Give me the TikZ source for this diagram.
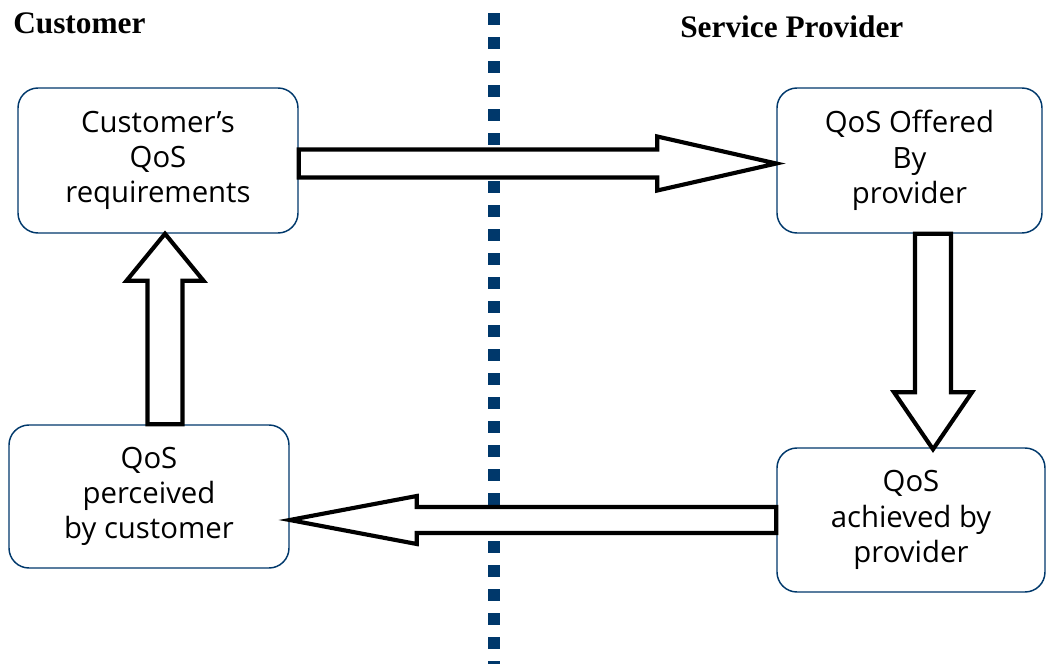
\documentclass[tikz,border=0pt]{standalone}
\usepackage{fontspec}
\setmainfont{Liberation Serif}
\newfontfamily\boxfont{Open Sans}
\usetikzlibrary{calc, positioning}

\definecolor{navy}{RGB}{0,56,107}

\tikzset{
  qosbox/.style={draw=navy, line width=1.1pt, rounded corners=15pt,
    minimum width=280*0.75pt, minimum height=145*0.75pt, align=center,
    font=\boxfont\fontsize{22}{26.5}\selectfont, inner sep=0pt},
  sidetitle/.style={font=\bfseries\fontsize{23.5}{26}\selectfont, inner sep=0pt},
  blockarrow/.style={draw=black, fill=white, line width=3.1pt, line join=miter}
}

\begin{document}
\begin{tikzpicture}[x=0.75pt, y=-0.75pt]
  \useasboundingbox (0,0) rectangle (1047,664);

  % Side titles
  \node[sidetitle, anchor=base west] (custtitle) at (13,33) {Customer};
  \node[sidetitle, anchor=base west] (provtitle) at (680,37) {Service Provider};

  % Dividing line
  \coordinate (divtop) at (494,13);
  \coordinate (divbot) at (494,670);
  \draw[navy, line width=9pt, dash pattern=on 9pt off 9pt] (divtop) -- (divbot);

  % The four boxes
  \node[qosbox] (req) at (158,160.5) {Customer’s\\QoS\\requirements};
  \node[qosbox, minimum width=265*0.75pt] (off) at (909.5,160.5) {QoS Offered\\By\\provider};
  \node[qosbox, minimum width=268*0.75pt, minimum height=144*0.75pt] (ach) at (911,520) {QoS\\achieved by\\provider};
  \node[qosbox, minimum width=280*0.75pt, minimum height=143*0.75pt] (per) at (149,496.5) {QoS\\perceived\\by customer};

  % Customer -> provider
  \coordinate (tipA) at ($(off.west)+(0,3)$);
  \draw[blockarrow] (req.east |- tipA) ++(0,-14) -- ($(tipA)+(-119,-14)$)
    -- ($(tipA)+(-119,-27)$) -- (tipA) -- ($(tipA)+(-119,27)$)
    -- ($(tipA)+(-119,14)$) -- ($(req.east |- tipA)+(0,14)$) -- cycle;

  % Offered -> achieved
  \coordinate (tipB) at ($(ach.north)+(22,2)$);
  \draw[blockarrow] (off.south -| tipB) ++(-18,0) -- ($(tipB)+(-18,-57)$)
    -- ($(tipB)+(-39,-57)$) -- (tipB) -- ($(tipB)+(39,-57)$)
    -- ($(tipB)+(18,-57)$) -- ($(off.south -| tipB)+(18,0)$) -- cycle;

  % Achieved -> perceived
  \coordinate (tipC) at (per.east |- ach.west);
  \draw[blockarrow] (ach.west) ++(0,-13) -- ($(tipC)+(127,-13)$)
    -- ($(tipC)+(127,-24)$) -- (tipC) -- ($(tipC)+(127,24)$)
    -- ($(tipC)+(127,13)$) -- ($(ach.west)+(0,13)$) -- cycle;

  % Perceived -> requirements
  \coordinate (tipD) at ($(req.south)+(7,0)$);
  \draw[blockarrow] (per.north -| tipD) ++(-17.5,0) -- ($(tipD)+(-17.5,47)$)
    -- ($(tipD)+(-38.5,47)$) -- (tipD) -- ($(tipD)+(38.5,47)$)
    -- ($(tipD)+(17.5,47)$) -- ($(per.north -| tipD)+(17.5,0)$) -- cycle;
\end{tikzpicture}
\end{document}
